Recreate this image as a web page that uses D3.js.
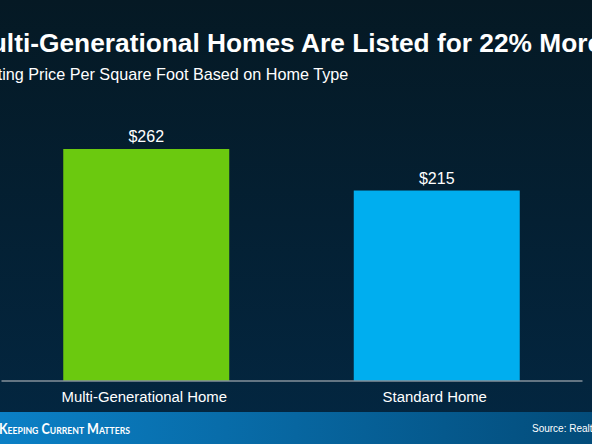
<!DOCTYPE html>
<html>
<head>
<meta charset="utf-8">
<script src="https://cdn.jsdelivr.net/npm/d3@7/dist/d3.min.js"></script>
<style>
html,body{margin:0;padding:0;background:#05202f;overflow:hidden}
svg{display:block}
text{font-family:"Liberation Sans",Arial,sans-serif;fill:#fff}
</style>
</head>
<body>
<svg id="c" width="592" height="444"></svg>
<script>
const categories = ["Multi-Generational Home", "Standard Home"];
const values = [262, 215];
const barColors = ["#6bc90f", "#00aeef"];
const titleText = "Multi-Generational Homes Are Listed for 22% More";
const subtitleText = "Listing Price Per Square Foot Based on Home Type";
const sourceText = "Source: Realtor.com";
const brandText = "Keeping Current Matters";

const svg = d3.select("#c");
const W = 592, H = 444, baseY = 380.5, footY = 412;
const defs = svg.append("defs");
const bg = defs.append("linearGradient").attr("id","bg").attr("x1",0).attr("y1",0).attr("x2",0).attr("y2",1);
bg.append("stop").attr("offset",0).attr("stop-color","#051924");
bg.append("stop").attr("offset",1).attr("stop-color","#032742");
const fg = defs.append("linearGradient").attr("id","fg").attr("x1",0).attr("y1",0).attr("x2",1).attr("y2",0);
fg.append("stop").attr("offset",0).attr("stop-color","#0b80c6");
fg.append("stop").attr("offset",1).attr("stop-color","#034c7a");

svg.append("rect").attr("width",W).attr("height",H).attr("fill","url(#bg)");
svg.append("rect").attr("y",footY).attr("width",W).attr("height",H-footY).attr("fill","url(#fg)");

const x = d3.scaleBand().domain(categories).range([1,582]).paddingInner(0.4286).paddingOuter(0.2143);
const y = d3.scaleLinear().domain([0,262]).range([baseY,149]);

svg.selectAll("rect.bar").data(categories).join("rect").attr("class","bar")
  .attr("x",d=>x(d)).attr("width",x.bandwidth())
  .attr("y",(d,i)=>y(values[i])).attr("height",(d,i)=>y(0)-y(values[i]))
  .attr("fill",(d,i)=>barColors[i]);

svg.selectAll("text.val").data(categories).join("text").attr("class","val")
  .attr("x",d=>x(d)+x.bandwidth()/2).attr("y",(d,i)=>y(values[i])-7)
  .attr("text-anchor","middle").attr("font-size",16)
  .text((d,i)=>"$"+values[i]);

const axis = svg.append("g").attr("transform",`translate(0,${baseY})`)
  .call(d3.axisBottom(x).tickSize(0).tickPadding(11));
axis.select(".domain").attr("stroke","#c4c6c8").attr("stroke-width",1);
axis.selectAll("text").attr("font-size",14.9).attr("fill","#f2f2f2").attr("dx",-2)
  .style("font-family",'"Liberation Sans",Arial,sans-serif');

svg.append("text").attr("x",285.5).attr("y",52).attr("text-anchor","middle")
  .attr("font-size",26.3).attr("font-weight",700).text(titleText);
svg.append("text").attr("x",-23).attr("y",80).attr("font-size",16.2).attr("fill","#f2f2f2").text(subtitleText);
svg.append("text").attr("x",-1).attr("y",434).attr("font-size",14.5).attr("font-weight",700)
  .attr("textLength",131).attr("lengthAdjust","spacingAndGlyphs")
  .style("font-variant","small-caps").style("font-family",'Lato,sans-serif').text(brandText);
svg.append("text").attr("x",532).attr("y",432).attr("font-size",10).text(sourceText);
</script>
</body>
</html>
